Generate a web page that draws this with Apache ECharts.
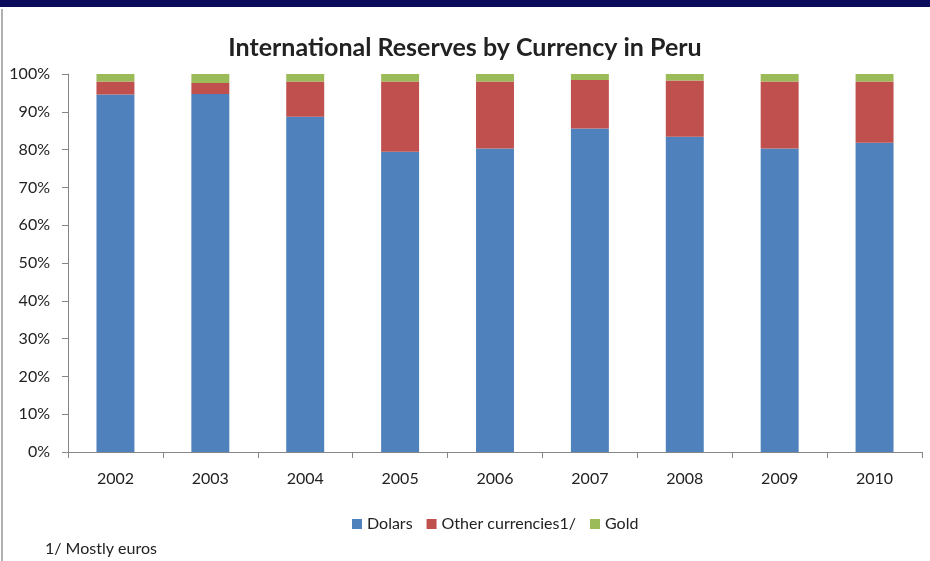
<!DOCTYPE html>
<html>
<head>
<meta charset="utf-8">
<script src="https://cdn.jsdelivr.net/npm/echarts@6/dist/echarts.min.js"></script>
<style>
html, body { margin: 0; padding: 0; background: #fff; }
#box { width: 930px; height: 561px; }
</style>
</head>
<body>
<div id="box"></div>
<script>
var years = ['2002', '2003', '2004', '2005', '2006', '2007', '2008', '2009', '2010'];
var dolars = [94.6, 94.7, 88.7, 79.4, 80.3, 85.6, 83.4, 80.3, 81.8];
var otherCurrencies = [3.4, 2.9, 9.3, 18.6, 17.7, 12.8, 14.9, 17.7, 16.2];
var gold = [2.0, 2.4, 2.0, 2.0, 2.0, 1.6, 1.7, 2.0, 2.0];
var seriesNames = ['Dolars', 'Other currencies1/', 'Gold'];
var colors = ['#4F81BD', '#C0504D', '#9BBB59'];

var font = 'Lato, "Open Sans", sans-serif';
var values = [dolars, otherCurrencies, gold];
var series = [];
for (var i = 0; i < values.length; i++) {
    series.push({
        name: seriesNames[i],
        type: 'bar',
        stack: 'total',
        barWidth: '40%',
        itemStyle: { color: colors[i] },
        data: values[i]
    });
}

var mychart = echarts.init(document.getElementById('box'));
var option = {
    animation: false,
    backgroundColor: '#ffffff',
    title: {
        text: 'International Reserves by Currency in Peru',
        left: 'center',
        top: 30,
        textStyle: { fontFamily: font, fontSize: 25, fontWeight: 'bold', color: '#222' }
    },
    legend: {
        data: seriesNames,
        top: 511,
        left: 347,
        itemWidth: 10,
        itemHeight: 10,
        itemGap: 14,
        icon: 'rect',
        textStyle: { fontFamily: font, fontSize: 16, color: '#222' }
    },
    grid: { left: 68, right: 8, top: 74, bottom: 109 },
    xAxis: {
        type: 'category',
        data: years,
        axisLine: { lineStyle: { color: '#868686' } },
        axisTick: { show: true, length: 6, lineStyle: { color: '#868686' } },
        axisLabel: { fontFamily: font, fontSize: 16, color: '#222', margin: 19 }
    },
    yAxis: {
        type: 'value',
        min: 0,
        max: 100,
        interval: 10,
        axisLine: { show: true, lineStyle: { color: '#868686' } },
        axisTick: { show: true, length: 6, lineStyle: { color: '#868686' } },
        splitLine: { show: false },
        axisLabel: { fontFamily: font, fontSize: 16, color: '#222', margin: 18, formatter: '{value}%' }
    },
    graphic: [
        { type: 'rect', shape: { x: 0, y: 0, width: 930, height: 7 }, style: { fill: '#0b0b5c' } },
        { type: 'rect', shape: { x: 1, y: 9, width: 2, height: 552 }, style: { fill: '#b0b0b0' } },
        { type: 'text', left: 45, top: 541, style: { text: '1/ Mostly euros', font: '16px ' + font, fill: '#222' } }
    ],
    series: series
};
mychart.setOption(option);
</script>
</body>
</html>
